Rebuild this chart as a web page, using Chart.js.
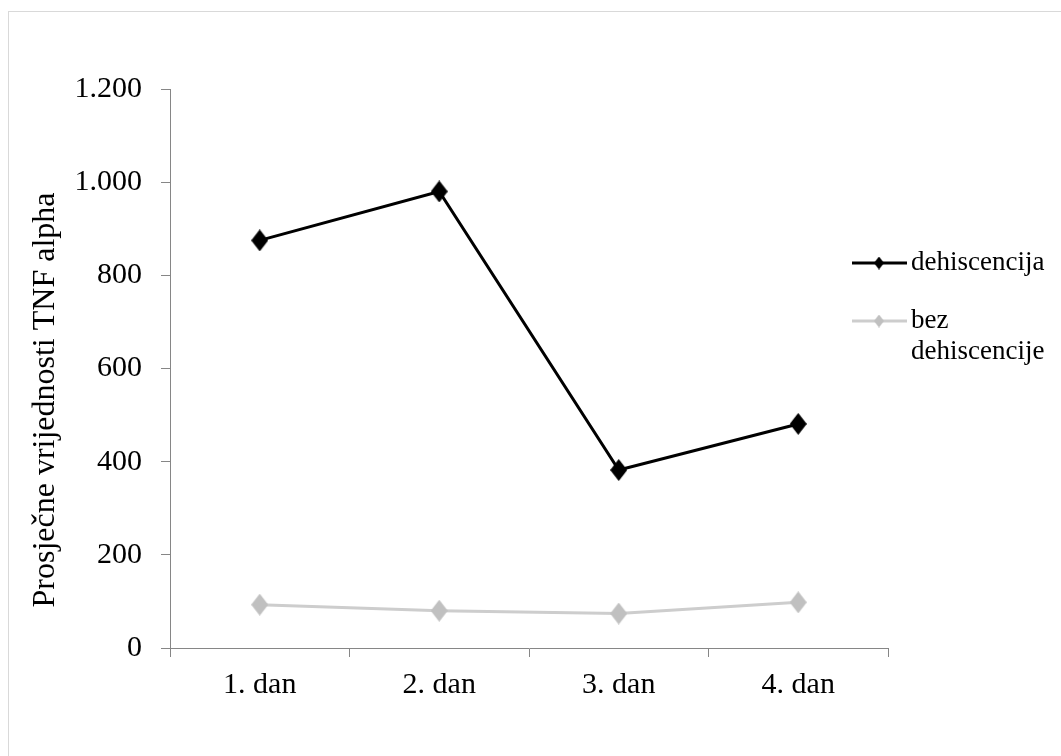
<!DOCTYPE html>
<html>
<head>
<meta charset="utf-8">
<script src="https://cdn.jsdelivr.net/npm/chart.js@4/dist/chart.umd.min.js"></script>
<style>
  html, body { margin: 0; padding: 0; background: #fff; }
  #wrap { width: 1061px; height: 756px; position: relative; }
</style>
</head>
<body>
<div id="wrap"><canvas id="chart"></canvas></div>
<script>
const categories = ["1. dan", "2. dan", "3. dan", "4. dan"]
const dehiscencija = [875, 980, 382, 481]
const bezDehiscencije = [93, 80, 74, 98]
const seriesLabels = ["dehiscencija", "bez dehiscencije"]
const yTicks = [0, 200, 400, 600, 800, 1000, 1200]
const yTitle = "Prosječne vrijednosti TNF alpha"

const FONT = "'Liberation Serif', 'Times New Roman', serif"

// diamond marker, a bit taller than wide like the original
function diamond(color, w, h) {
  const c = document.createElement("canvas")
  c.width = w
  c.height = h
  const ctx = c.getContext("2d")
  ctx.fillStyle = color
  ctx.beginPath()
  ctx.moveTo(w / 2, 0)
  ctx.lineTo(w, h / 2)
  ctx.lineTo(w / 2, h)
  ctx.lineTo(0, h / 2)
  ctx.closePath()
  ctx.fill()
  return c
}

const fmt = v => String(v).replace(/\B(?=(\d{3})+(?!\d))/g, ".")

const frame = {
  id: "frame",
  beforeDraw(chart) {
    const ctx = chart.ctx
    ctx.save()
    ctx.fillStyle = "#fff"
    ctx.fillRect(0, 0, chart.width, chart.height)
    ctx.strokeStyle = "#d9d9d9"
    ctx.lineWidth = 1
    ctx.strokeRect(8.5, 11.5, chart.width + 20, chart.height + 20)
    ctx.restore()
  }
}

const sideText = {
  id: "sideText",
  afterDraw(chart) {
    const ctx = chart.ctx
    ctx.save()
    // y axis title
    ctx.font = "32px " + FONT
    ctx.fillStyle = "#000"
    ctx.textAlign = "center"
    ctx.textBaseline = "middle"
    ctx.translate(46, 400)
    ctx.rotate(-Math.PI / 2)
    ctx.fillText(yTitle, 0, 0)
    ctx.restore()

    // legend
    ctx.save()
    ctx.font = "27px " + FONT
    ctx.textAlign = "left"
    ctx.textBaseline = "middle"
    ctx.fillStyle = "#000"
    const rows = [263, 321]
    chart.data.datasets.forEach((ds, i) => {
      const y = rows[i]
      ctx.strokeStyle = ds.borderColor
      ctx.lineWidth = 3
      ctx.beginPath()
      ctx.moveTo(852, y)
      ctx.lineTo(907, y)
      ctx.stroke()
      ctx.drawImage(ds.legendMarker, 879 - ds.legendMarker.width / 2, y - ds.legendMarker.height / 2)
      // wrap the label to the space that is left
      const words = ds.label.split(" ")
      const lines = []
      let line = ""
      words.forEach(w => {
        const t = line ? line + " " + w : w
        if (ctx.measureText(t).width > 138 && line) {
          lines.push(line)
          line = w
        } else {
          line = t
        }
      })
      lines.push(line)
      lines.forEach((l, j) => ctx.fillText(l, 911, y + j * 31))
    })
    ctx.restore()
  }
}

new Chart(document.getElementById("chart"), {
  type: "line",
  data: {
    labels: categories,
    datasets: [
      {
        label: seriesLabels[0],
        data: dehiscencija,
        borderColor: "#000",
        backgroundColor: "#000",
        borderWidth: 3,
        pointStyle: diamond("#000", 17, 22),
        legendMarker: diamond("#000", 10, 13),
        tension: 0
      },
      {
        label: seriesLabels[1],
        data: bezDehiscencije,
        borderColor: "#cdcdcd",
        backgroundColor: "#c0c0c0",
        borderWidth: 3,
        pointStyle: diamond("#c0c0c0", 17, 22),
        legendMarker: diamond("#c0c0c0", 10, 13),
        tension: 0
      }
    ]
  },
  options: {
    responsive: true,
    maintainAspectRatio: false,
    animation: false,
    layout: {
      padding: { left: 10, right: 173, top: 89, bottom: 0 }
    },
    plugins: {
      legend: { display: false },
      tooltip: { enabled: false }
    },
    scales: {
      x: {
        offset: true,
        grid: {
          offset: true,
          drawOnChartArea: false,
          drawTicks: true,
          tickLength: 9,
          color: "#868686"
        },
        border: { color: "#868686", width: 1 },
        ticks: {
          color: "#000",
          padding: 10,
          font: { family: FONT, size: 30 }
        },
        afterFit: scale => { scale.height = 108 }
      },
      y: {
        min: 0,
        max: 1200,
        afterBuildTicks: scale => { scale.ticks = yTicks.map(v => ({ value: v })) },
        grid: {
          drawOnChartArea: false,
          drawTicks: true,
          tickLength: 9,
          color: "#868686"
        },
        border: { color: "#868686", width: 1 },
        ticks: {
          color: "#000",
          padding: 19,
          font: { family: FONT, size: 30 },
          callback: v => fmt(v)
        },
        afterFit: scale => { scale.width = 160 }
      }
    }
  },
  plugins: [frame, sideText]
})
</script>
</body>
</html>
